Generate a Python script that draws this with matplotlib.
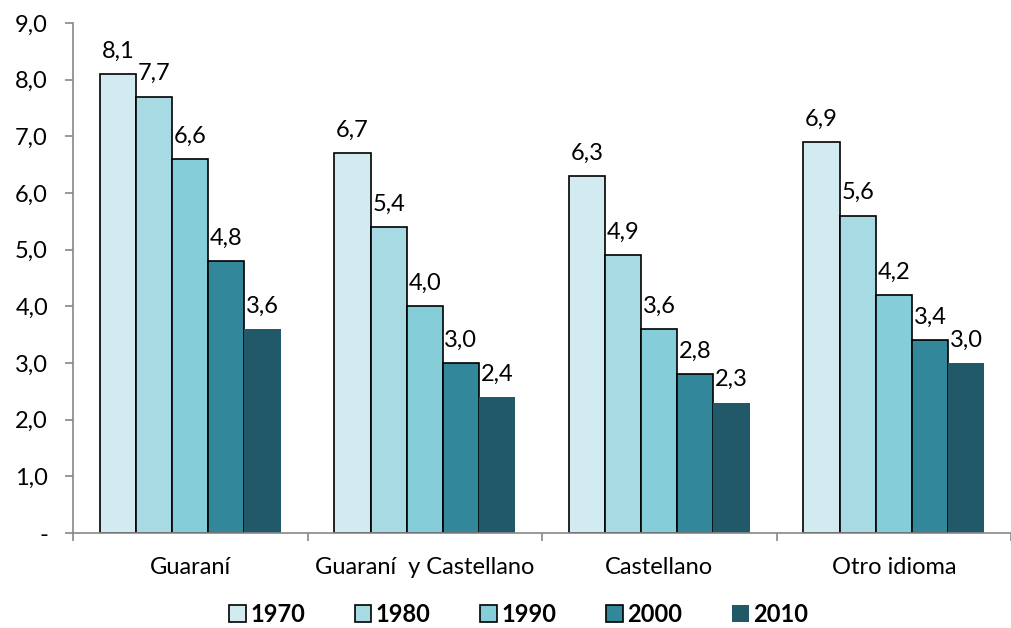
import numpy as np
import matplotlib
matplotlib.use("Agg")
import matplotlib.pyplot as plt

plt.rcParams["font.family"] = ["Lato", "DejaVu Sans"]

categories = ["Guaraní", "Guaraní  y Castellano", "Castellano", "Otro idioma"]
years = ["1970", "1980", "1990", "2000", "2010"]
values = {
    "1970": [8.1, 6.7, 6.3, 6.9],
    "1980": [7.7, 5.4, 4.9, 5.6],
    "1990": [6.6, 4.0, 3.6, 4.2],
    "2000": [4.8, 3.0, 2.8, 3.4],
    "2010": [3.6, 2.4, 2.3, 3.0],
}
colors = ["#D2EBF0", "#A8DAE4", "#84CDD9", "#32879A", "#215968"]
edges = ["black", "black", "black", "black", "none"]
FS = 17

fig = plt.figure(figsize=(10.11, 6.28), dpi=100)
ax = fig.add_axes([73 / 1011, 1 - 533 / 628, 938 / 1011, 510 / 628])

x = np.arange(len(categories))
bw = 0.77 / len(years)
for i, yr in enumerate(years):
    pos = x - 0.385 + bw * (i + 0.5)
    ax.bar(pos, values[yr], width=bw, color=colors[i], edgecolor=edges[i],
           linewidth=1.2, label=yr, zorder=2)
    for p, v in zip(pos, values[yr]):
        ax.annotate(f"{v:.1f}".replace(".", ","), (p, v), xytext=(0, 9),
                    textcoords="offset points", ha="center", va="bottom",
                    fontsize=FS)

ax.set_ylim(0, 9)
ax.set_xlim(-0.5, 3.5 - 7 / 236)
yt = np.arange(0, 10)
ax.set_yticks(yt)
ax.set_yticklabels(["-"] + [f"{v:.1f}".replace(".", ",") for v in yt[1:]], fontsize=FS)
ax.tick_params(axis="y", length=6, color="#888888", width=1.2, pad=12)

ax.set_xticks(np.arange(-0.5, 3.6, 1.0))
ax.set_xticklabels([])
ax.set_xticks(x, minor=True)
ax.set_xticklabels(categories, minor=True, fontsize=FS)
ax.tick_params(axis="x", which="major", length=6, color="#888888", width=1.2)
ax.tick_params(axis="x", which="minor", length=0, pad=17)

for s in ["top", "right"]:
    ax.spines[s].set_visible(False)
for s in ["left", "bottom"]:
    ax.spines[s].set_color("#888888")
    ax.spines[s].set_linewidth(1.2)

leg = fig.legend(loc="center", bbox_to_anchor=(0.513, 1 - 614 / 628), ncol=5,
                 frameon=False, prop={"weight": "bold", "size": FS},
                 handlelength=0.7, handleheight=0.7, handletextpad=0.2,
                 columnspacing=2.1)

fig.savefig("out.png", dpi=100)
